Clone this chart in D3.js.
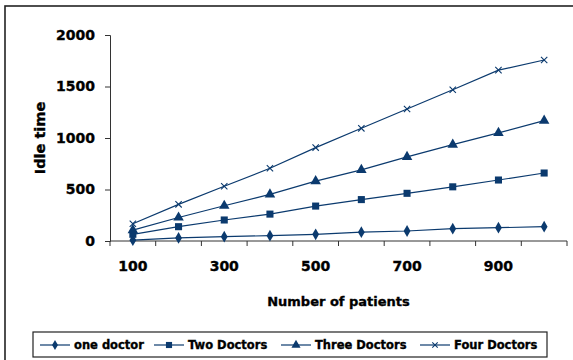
<!DOCTYPE html>
<html>
<head>
<meta charset="utf-8">
<script src="https://cdn.jsdelivr.net/npm/d3@7"></script>
<style>
  html, body { margin: 0; padding: 0; background: #fff; }
  svg { display: block; }
  text { font-family: "DejaVu Sans", sans-serif; font-weight: bold; fill: #000; stroke: #000; stroke-width: 0.35px; }
</style>
</head>
<body>
<svg id="chart" width="573" height="360"></svg>
<script>
// Number of patients (category axis)
const patients = [100, 200, 300, 400, 500, 600, 700, 800, 900, 1000];

// Idle time per staffing level
const oneDoctor    = [8, 30, 42, 52, 65, 86, 97, 120, 129, 139];
const twoDoctors   = [65, 139, 204, 261, 339, 402, 463, 526, 592, 660];
const threeDoctors = [105, 228, 342, 453, 581, 690, 816, 936, 1050, 1168];
const fourDoctors  = [167, 356, 531, 706, 907, 1094, 1282, 1469, 1659, 1757];

const seriesNames = ["one doctor", "Two Doctors", "Three Doctors", "Four Doctors"];
const seriesShapes = ["diamond", "square", "triangle", "cross"];
const yTicks = [0, 500, 1000, 1500, 2000];
const xLabels = [100, 300, 500, 700, 900];

const series = [oneDoctor, twoDoctors, threeDoctors, fourDoctors].map((vals, i) => ({
  name: seriesNames[i],
  shape: seriesShapes[i],
  values: vals.map((v, j) => ({ x: patients[j], y: v }))
}));

const navy = "#0b3a6e";
const axisColor = "#333";

const svg = d3.select("#chart");

// Outer chart-area frame (runs past the right and bottom edges)
svg.append("rect")
  .attr("x", 5).attr("y", 6)
  .attr("width", 600).attr("height", 400)
  .attr("fill", "none").attr("stroke", "#222").attr("stroke-width", 1.6);

const plot = { left: 110, right: 567, top: 35, bottom: 241 };

const x = d3.scaleBand().domain(patients).range([plot.left, plot.right]).padding(0);
const y = d3.scaleLinear().domain([0, 2000]).range([plot.bottom, plot.top]);

// Y axis
const yAxis = svg.append("g")
  .attr("transform", `translate(${plot.left},0)`)
  .call(d3.axisLeft(y).tickValues(yTicks).tickSize(5).tickPadding(10).tickFormat(d3.format("d")));
yAxis.select(".domain").attr("stroke", axisColor);
yAxis.selectAll(".tick line").attr("stroke", axisColor);
yAxis.selectAll(".tick text").attr("font-size", 14).attr("font-family", "DejaVu Sans").attr("font-weight", "bold").attr("fill", "#000");

// X axis: labels at every other category, ticks between categories
const xAxis = svg.append("g")
  .attr("transform", `translate(0,${plot.bottom})`)
  .call(d3.axisBottom(x).tickValues(xLabels).tickSize(0).tickPadding(20));
xAxis.select(".domain").remove();
xAxis.selectAll(".tick text").attr("font-size", 14).attr("font-family", "DejaVu Sans").attr("font-weight", "bold").attr("fill", "#000");

svg.append("line")
  .attr("x1", plot.left).attr("x2", plot.right)
  .attr("y1", plot.bottom).attr("y2", plot.bottom)
  .attr("stroke", axisColor);

const edges = patients.map(p => x(p)).concat([x.range()[1]]);
svg.append("g").selectAll("line").data(edges).join("line")
  .attr("x1", d => d).attr("x2", d => d)
  .attr("y1", plot.bottom).attr("y2", plot.bottom + 5)
  .attr("stroke", axisColor);

// Axis titles
svg.append("text")
  .attr("x", (plot.left + plot.right) / 2).attr("y", 306)
  .attr("text-anchor", "middle").attr("font-size", 13)
  .text("Number of patients");

svg.append("text")
  .attr("transform", "translate(45,138) rotate(-90)")
  .attr("text-anchor", "middle").attr("font-size", 14.5)
  .text("Idle time");

// Marker shapes
function marker(sel, shape, scale) {
  const s = scale || 1;
  if (shape === "diamond") {
    sel.append("path").attr("d", d3.symbol(d3.symbolDiamond, 40 * s)()).attr("fill", navy);
  } else if (shape === "square") {
    sel.append("path").attr("d", d3.symbol(d3.symbolSquare, 50 * s)()).attr("fill", navy);
  } else if (shape === "triangle") {
    sel.append("path").attr("d", d3.symbol(d3.symbolTriangle, 48 * s)()).attr("fill", navy);
  } else {
    sel.append("path").attr("d", d3.symbol(d3.symbolX, 28 * s)())
      .attr("fill", "none").attr("stroke", navy).attr("stroke-width", 1.1);
  }
}

const line = d3.line().x(d => x(d.x) + x.bandwidth() / 2).y(d => y(d.y));

series.forEach(s => {
  svg.append("path")
    .datum(s.values)
    .attr("d", line)
    .attr("fill", "none")
    .attr("stroke", navy)
    .attr("stroke-width", 1.2);
  svg.append("g").selectAll("g").data(s.values).join("g")
    .attr("transform", d => `translate(${x(d.x) + x.bandwidth() / 2},${y(d.y)})`)
    .each(function () { marker(d3.select(this), s.shape); });
});

// Legend
const legend = svg.append("g");
legend.append("rect")
  .attr("x", 33).attr("y", 332).attr("width", 514).attr("height", 25)
  .attr("fill", "#fff").attr("stroke", "#222").attr("stroke-width", 1.2);

const legendX = [40, 154, 281, 420];
series.forEach((s, i) => {
  const g = legend.append("g").attr("transform", `translate(${legendX[i]},345)`);
  g.append("line").attr("x1", 0).attr("x2", 30).attr("y1", 0).attr("y2", 0)
    .attr("stroke", navy).attr("stroke-width", 1.2);
  const m = g.append("g").attr("transform", "translate(15,0)");
  marker(m, s.shape, 0.75);
  g.append("text").attr("x", 34).attr("y", 4).attr("font-size", 11.5).text(s.name);
});
</script>
</body>
</html>
